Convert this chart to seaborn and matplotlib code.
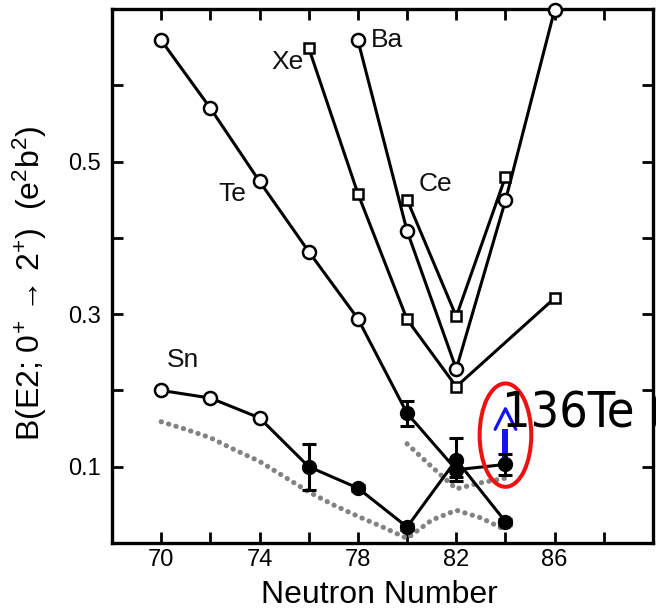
import matplotlib
matplotlib.use("Agg")
import matplotlib.pyplot as plt
from matplotlib.patches import Ellipse
import seaborn as sns

# ---- data -------------------------------------------------------------
# Te chain: adopted values (open circles) then measured values (filled)
te_open_n = [70, 72, 74, 76, 78]
te_open_b = [0.659, 0.570, 0.474, 0.382, 0.294]
te_meas_n = [80, 82, 84]
te_meas_b = [0.170, 0.096, 0.103]
te_meas_err = [0.016, 0.010, 0.014]

# Sn chain
sn_open_n = [70, 72, 74]
sn_open_b = [0.200, 0.190, 0.164]
sn_meas_n = [76, 78, 80, 82, 84]
sn_meas_b = [0.100, 0.072, 0.021, 0.109, 0.028]
sn_meas_err = [0.030, 0.004, 0.004, 0.028, 0.004]

# Heavier chains
xe_n = [76, 78, 80, 82, 86]
xe_b = [0.649, 0.458, 0.293, 0.205, 0.321]
ba_n = [78, 80, 82, 84, 86]
ba_b = [0.659, 0.409, 0.228, 0.449, 0.699]
ce_n = [80, 82, 84]
ce_b = [0.450, 0.297, 0.480]

# Shell-model calculations (dotted)
calc_sn_n = [70, 71, 72, 73, 74, 75, 76, 77, 78, 79, 80, 81, 82, 83, 84]
calc_sn_b = [0.159, 0.149, 0.138, 0.122, 0.107, 0.087, 0.067, 0.050,
             0.035, 0.021, 0.006, 0.030, 0.043, 0.033, 0.017]
calc_te_n = [80, 81, 82, 83, 84]
calc_te_b = [0.130, 0.100, 0.071, 0.079, 0.085]

x_ticks = [70, 72, 74, 76, 78, 80, 82, 84, 86, 88]
x_ticklabels = ["70", "", "74", "", "78", "", "82", "", "86", ""]
y_ticks = [0.1, 0.2, 0.3, 0.4, 0.5, 0.6]
y_ticklabels = ["0.1", "", "0.3", "", "0.5", ""]

chain_names = ["Xe", "Te", "Ba", "Ce", "Sn"]

# ---- style ------------------------------------------------------------
sns.set_theme(style="ticks")
plt.rcParams["font.family"] = ["Liberation Sans", "DejaVu Sans"]
plt.rcParams["mathtext.fontset"] = "custom"
plt.rcParams["mathtext.rm"] = "Liberation Sans"
plt.rcParams["mathtext.it"] = "Liberation Sans:italic"
plt.rcParams["mathtext.bf"] = "Liberation Sans:bold"
plt.rcParams["mathtext.sf"] = "Liberation Sans"
plt.rcParams["mathtext.default"] = "regular"

W, H = 656, 610
fig = plt.figure(figsize=(W / 100, H / 100), dpi=100)
ax = fig.add_axes([112 / W, 1 - 543 / H, (653 - 112) / W, (543 - 9) / H])

LW = 2.2
open_kw = dict(linestyle="", marker="o", markersize=9.4, markerfacecolor="white",
               markeredgecolor="black", markeredgewidth=1.8, zorder=4)
square_kw = dict(linestyle="", marker="s", markersize=7.0, markerfacecolor="white",
                 markeredgecolor="black", markeredgewidth=1.8, zorder=4)

# dotted calculations
dot_kw = dict(color="#838383", linewidth=3.7, linestyle=(0, (0.05, 1.45)),
              dash_capstyle="round", zorder=2)
sns.lineplot(x=calc_sn_n, y=calc_sn_b, ax=ax, errorbar=None, **dot_kw)
sns.lineplot(x=calc_te_n, y=calc_te_b, ax=ax, errorbar=None, **dot_kw)

# connecting lines
te_n = te_open_n + te_meas_n
te_b = te_open_b + te_meas_b
sn_n = sn_open_n + sn_meas_n
sn_b = sn_open_b + sn_meas_b
for xs, ys in [(te_n, te_b), (sn_n, sn_b), (xe_n, xe_b), (ba_n, ba_b), (ce_n, ce_b)]:
    sns.lineplot(x=xs, y=ys, ax=ax, color="black", linewidth=LW, errorbar=None,
                 zorder=3)

# markers
sns.lineplot(x=te_open_n, y=te_open_b, ax=ax, errorbar=None, **open_kw)
sns.lineplot(x=sn_open_n, y=sn_open_b, ax=ax, errorbar=None, **open_kw)
sns.lineplot(x=ba_n, y=ba_b, ax=ax, errorbar=None, clip_on=False, **open_kw)
sns.lineplot(x=xe_n, y=xe_b, ax=ax, errorbar=None, **square_kw)
sns.lineplot(x=ce_n, y=ce_b, ax=ax, errorbar=None, **square_kw)

# 136Te highlight: arrow and ring
arrow_base = te_meas_b[-1]
arrow_x = te_meas_n[-1]
ax.plot([arrow_x, arrow_x], [arrow_base, 0.149], color="#1414ee", linewidth=4.3,
        solid_capstyle="butt", zorder=5)
ax.plot([arrow_x - 0.42, arrow_x, arrow_x + 0.42], [0.149, 0.176, 0.149],
        color="#1414ee", linewidth=2.3, zorder=5)

for xs, ys, es in [(te_meas_n, te_meas_b, te_meas_err), (sn_meas_n, sn_meas_b, sn_meas_err)]:
    ax.errorbar(xs, ys, yerr=es, fmt="o", color="black", markersize=10.0,
                elinewidth=2.2, capsize=5.0, capthick=2.2, zorder=6)

ax.add_patch(Ellipse((84, 0.1414), width=2.1, height=0.1355, fill=False,
                     edgecolor="#ee1111", linewidth=2.9, zorder=7))
ax.text(83.84, 0.153, "136Te (", fontsize=36, family=["DejaVu Sans"],
        fontstretch="condensed", color="black", ha="left", va="baseline",
        zorder=8, clip_on=False)

# chain labels
label_pos = {"Xe": (75.15, 0.630), "Te": (72.9, 0.458), "Ba": (79.2, 0.659),
             "Ce": (81.15, 0.470), "Sn": (70.9, 0.240)}
for name in chain_names:
    px, py = label_pos[name]
    ax.text(px, py, name, fontsize=19, ha="center", va="center", color="#111111",
            zorder=8)

# axes
ax.set_xlim(68, 90)
ax.set_ylim(0, 0.7)
ax.set_xticks(x_ticks)
ax.set_xticklabels(x_ticklabels)
ax.set_yticks(y_ticks)
ax.set_yticklabels(y_ticklabels)
ax.tick_params(axis="both", direction="in", length=8, width=2.0, labelsize=17,
               colors="black", top=True, right=True)
ax.tick_params(axis="x", pad=4)
ax.tick_params(axis="y", pad=8)
for sp in ax.spines.values():
    sp.set_visible(True)
    sp.set_linewidth(2.4)
    sp.set_color("black")

ax.set_xlabel("Neutron Number", fontsize=23, color="black")
ax.xaxis.label.set_va("baseline")
ax.xaxis.set_label_coords(0.4935, (543 - 603) / 534)

fig.text(30 / W, 1 - 283 / H, "B(E2; 0$^{+}$ → 2$^{+}$)  (e$^{2}$b$^{2}$)",
         fontsize=23, family=["Liberation Sans Narrow", "Liberation Sans"],
         color="black", rotation=90, ha="center", va="center")

fig.savefig("out.png", dpi=100)
